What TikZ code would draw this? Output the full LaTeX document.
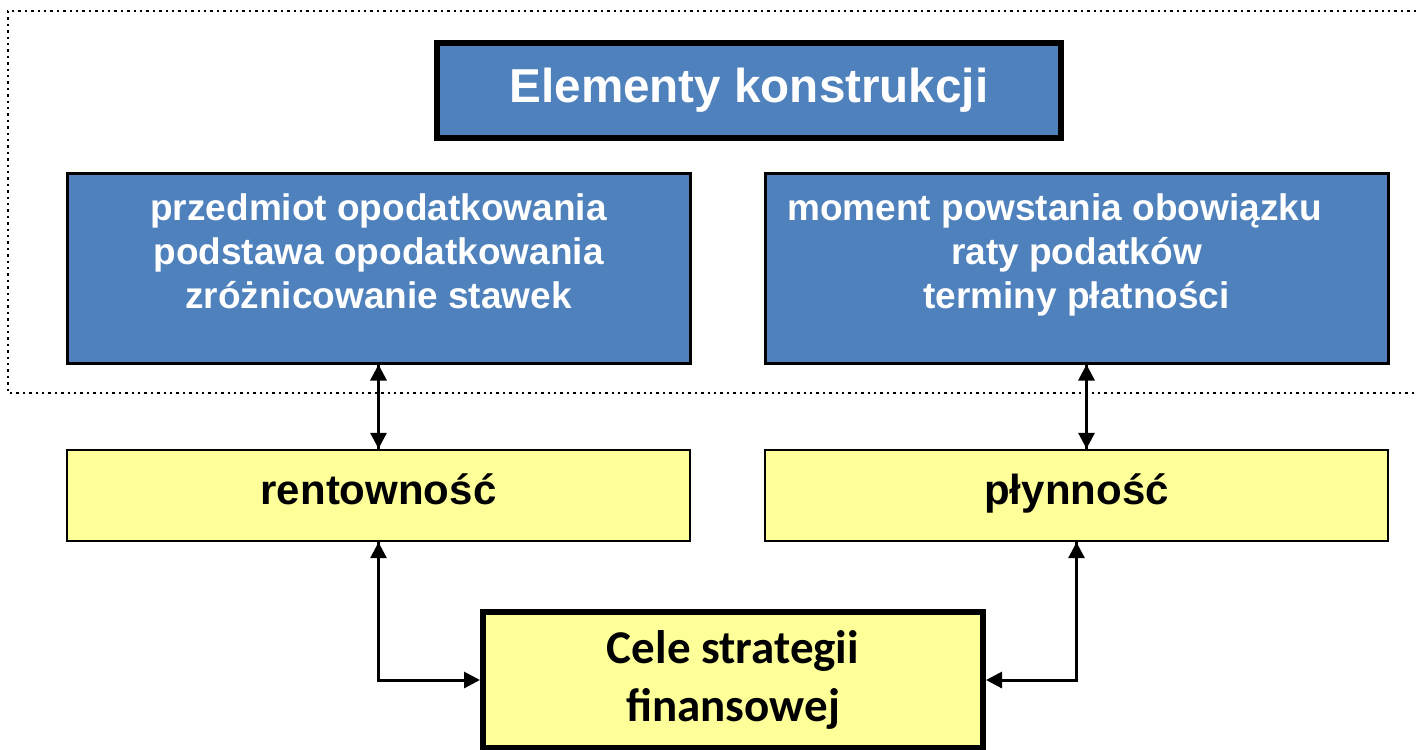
\documentclass[tikz,border=0pt]{standalone}
\usepackage{fontspec}
\setmainfont{Liberation Sans}
\newfontfamily\celefont{Carlito}
\usetikzlibrary{arrows.meta}
\usetikzlibrary{positioning}

\definecolor{elemblue}{HTML}{4F81BD}
\definecolor{goalyellow}{HTML}{FFFF99}

\tikzset{
  tip/.style={-{Triangle[length=8pt,width=8pt]}},
  element/.style={draw=black,line width=1.5pt,fill=elemblue,text=white,
    font=\bfseries\fontsize{18.5}{22}\selectfont,align=center,
    minimum width=311.5pt,minimum height=95pt,inner sep=0pt},
  goal/.style={draw=black,line width=1.2pt,fill=goalyellow,
    font=\bfseries\fontsize{21}{25}\selectfont,text depth=6pt,
    minimum width=311.5pt,minimum height=45.5pt,inner sep=0pt}
}

\begin{document}
\begin{tikzpicture}[x=0.5pt,y=-0.5pt,line width=1.5pt]
  \useasboundingbox (0,0) rectangle (1416,749);
  \draw[dotted,line width=1.2pt] (1416,11) -- (8,11) -- (8,393) -- (1416,393);

  \node[element,line width=3pt,minimum width=312pt,minimum height=47.5pt,
    font=\bfseries\fontsize{23.8}{28}\selectfont] (title) at (749,90.5) {Elementy konstrukcji};
  \node[element,text depth=17pt] (przedmiot) at (378.5,268)
    {przedmiot opodatkowania\\podstawa opodatkowania\\zróżnicowanie stawek};
  \node[element,text depth=17pt] (moment) at (1076.5,268)
    {moment powstania obowiązku\kern22pt\\raty podatków\\terminy płatności};

  \node[goal] (rent) at (378.5,495.5) {rentowność};
  \node[goal] (plyn) at (1076.5,495.5) {płynność};

  \node[draw=black,line width=3pt,fill=goalyellow,minimum width=250pt,minimum height=68pt,
    inner sep=0pt,align=center,font=\celefont\bfseries\fontsize{23.5}{29}\selectfont]
    (cele) at (733,680) {Cele strategii\\finansowej};

  \draw[tip] (przedmiot.south |- rent.north) -- (przedmiot.south);
  \draw[tip] (przedmiot.south) -- (rent.north);
  \draw[tip] ([xshift=5pt]moment.south |- plyn.north) -- ([xshift=5pt]moment.south);
  \draw[tip] ([xshift=5pt]moment.south) -- ([xshift=5pt]plyn.north);

  \draw[tip] (rent.south |- cele.west) -- (rent.south);
  \draw[tip] (rent.south) |- (cele.west);
  \draw[tip] (plyn.south |- cele.east) -- (plyn.south);
  \draw[tip] (plyn.south) |- (cele.east);
\end{tikzpicture}
\end{document}
